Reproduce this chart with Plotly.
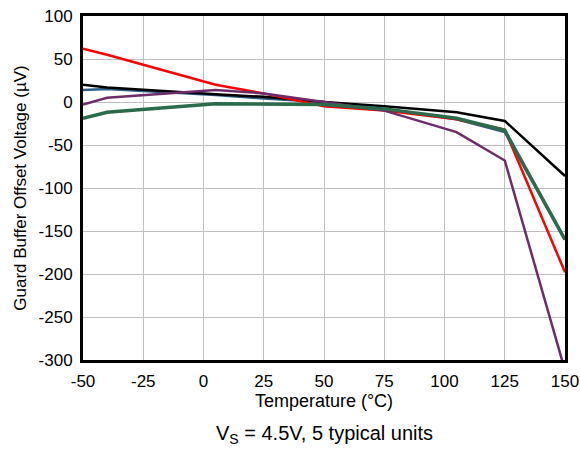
"""Guard buffer offset voltage vs temperature, 5 typical units."""
from plotly import graph_objects as go

temperature = [-50, -40, 5, 25, 50, 75, 105, 125, 150]

unit_black = [20, 17, 9, 6, 0, -5, -12, -22, -86]
unit_red = [62, 55, 20, 10, -5, -10, -20, -32, -198]
unit_purple = [-3, 5, 14, 10, 0, -10, -35, -68, -312]
unit_blue = [14, 15, 8, 4, 0, -8, -20, -35, -160]
unit_green = [-19, -12, -2, -2, -3, -8, -19, -33, -160]

x_ticks = [-50, -25, 0, 25, 50, 75, 100, 125, 150]
y_ticks = [-300, -250, -200, -150, -100, -50, 0, 50, 100]

series = [
    (unit_blue, "#2E5E86", 2.5),
    (unit_black, "#000000", 2.5),
    (unit_red, "#FF0000", 2.5),
    (unit_purple, "#6E2C6A", 2.5),
    (unit_green, "#2A6B4C", 3.5),
]

fig = go.Figure()
for values, colour, width in series:
    fig.add_trace(
        go.Scatter(
            x=temperature,
            y=values,
            mode="lines",
            line={"color": colour, "width": width},
            showlegend=False,
        )
    )

axis_common = {
    "showline": True,
    "linecolor": "black",
    "linewidth": 3,
    "mirror": True,
    "showgrid": True,
    "gridcolor": "#BFBFBF",
    "gridwidth": 1,
    "zeroline": False,
    "ticks": "",
    "automargin": False,
    "tickfont": {"size": 17, "color": "black"},
}

fig.update_layout(
    width=580,
    height=449,
    margin={"l": 83, "r": 15, "t": 16, "b": 89},
    paper_bgcolor="white",
    plot_bgcolor="white",
    font={"family": "Liberation Sans, Arial, sans-serif", "color": "black"},
    xaxis={
        **axis_common,
        "range": [-50, 150],
        "tickvals": x_ticks,
        "ticktext": [str(t) for t in x_ticks],
        "ticklabelstandoff": 4,
        "title": {"text": "Temperature (°C)", "font": {"size": 18}, "standoff": 4},
    },
    yaxis={
        **axis_common,
        "range": [-300, 100],
        "tickvals": y_ticks,
        "ticktext": [str(t) for t in y_ticks],
        "ticklabelstandoff": 4,
        "title": {"text": "Guard Buffer Offset Voltage (µV)", "font": {"size": 17}, "standoff": 8},
    },
    annotations=[
        {
            "text": "V<sub>S</sub> = 4.5V, 5 typical units",
            "xref": "paper",
            "yref": "paper",
            "x": 0.5,
            "y": -0.218,
            "xanchor": "center",
            "yanchor": "middle",
            "showarrow": False,
            "font": {"size": 20, "color": "black"},
        }
    ],
)

fig.write_html(
    "out.html",
    config={"displayModeBar": False},
    post_script="document.body.style.margin = '0';",
)
